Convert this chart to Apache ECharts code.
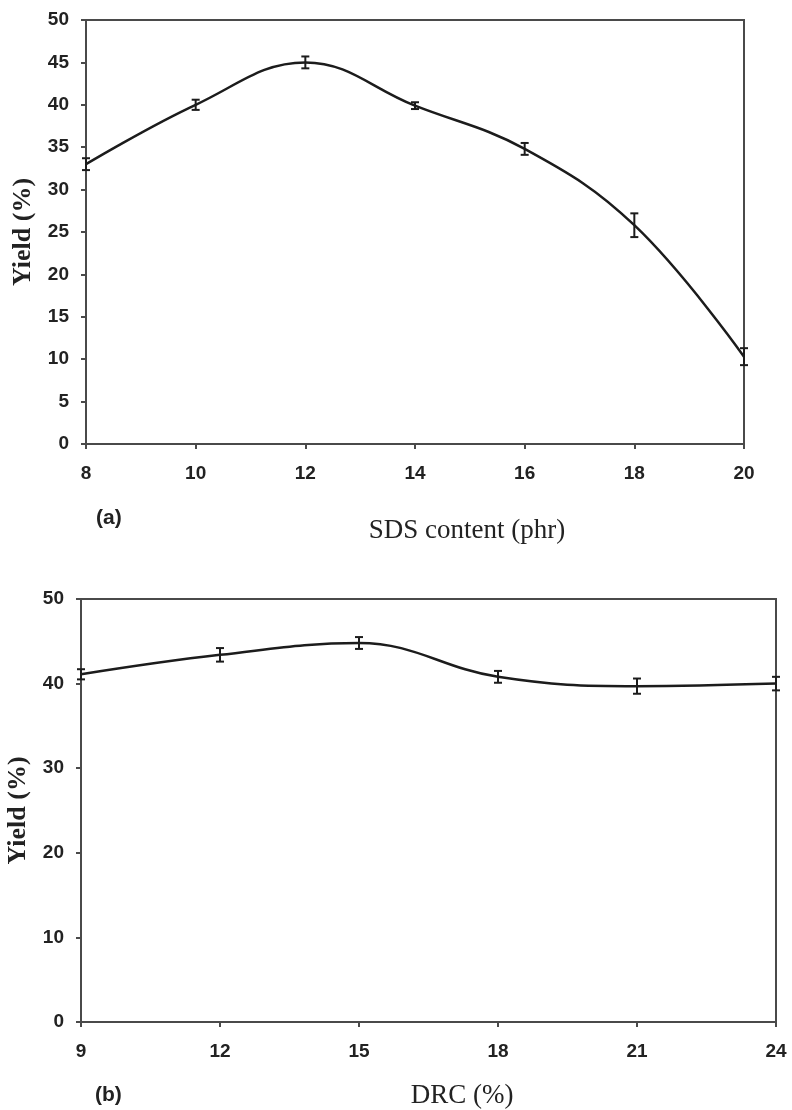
<!DOCTYPE html>
<html><head><meta charset="utf-8">
<script src="https://cdn.jsdelivr.net/npm/echarts@6/dist/echarts.min.js"></script>
<style>html,body{margin:0;padding:0;background:#fff}#c{width:792px;height:1110px}</style>
</head><body><div id="c"></div>
<script>
// Panel (a)
const sdsContent = [8, 10, 12, 14, 16, 18, 20];
const yieldA = [33.0, 40.0, 45.0, 39.9, 34.8, 25.8, 10.3];
const errA = [0.7, 0.6, 0.7, 0.4, 0.7, 1.4, 1.0];
const yTicksA = [0, 5, 10, 15, 20, 25, 30, 35, 40, 45, 50];
// Panel (b)
const drc = [9, 12, 15, 18, 21, 24];
const yieldB = [41.1, 43.4, 44.8, 40.8, 39.7, 40.0];
const errB = [0.6, 0.8, 0.7, 0.7, 0.9, 0.8];
const yTicksB = [0, 10, 20, 30, 40, 50];

const chart = echarts.init(document.getElementById('c'), null, {renderer: 'canvas'});
const INK = '#1c1c1c';
const AX = '#4a4a4a';
const tickFont = {color: '#222', fontFamily: 'Liberation Sans, Arial, sans-serif', fontWeight: 'bold', fontSize: 19};

function errRender(xs, ys, es) {
  return function (params, api) {
    const i = params.dataIndex;
    const top = api.coord([xs[i], ys[i] + es[i]]);
    const bot = api.coord([xs[i], ys[i] - es[i]]);
    const w = 4;
    const st = {stroke: INK, lineWidth: 2};
    return {type: 'group', children: [
      {type: 'line', shape: {x1: top[0], y1: top[1], x2: bot[0], y2: bot[1]}, style: st},
      {type: 'line', shape: {x1: top[0] - w, y1: top[1], x2: top[0] + w, y2: top[1]}, style: st},
      {type: 'line', shape: {x1: bot[0] - w, y1: bot[1], x2: bot[0] + w, y2: bot[1]}, style: st}
    ]};
  };
}

function xAxisCfg(gi, min, max, interval, name, shift, gap) {
  return {
    type: 'value', gridIndex: gi, min: min, max: max, interval: interval,
    name: name, nameLocation: 'middle', nameGap: gap,
    nameTextStyle: {color: '#222', fontFamily: 'Liberation Serif, Times New Roman, serif', fontSize: 27, padding: [0, 0, 0, shift]},
    axisLine: {show: true, lineStyle: {color: AX, width: 2}},
    axisTick: {show: true, inside: false, length: 5, lineStyle: {color: AX, width: 2}},
    axisLabel: Object.assign({margin: 20}, tickFont),
    splitLine: {show: false}
  };
}
function yAxisCfg(gi, ticks, interval) {
  return {
    type: 'value', gridIndex: gi, min: ticks[0], max: ticks[ticks.length - 1], interval: interval,
    name: 'Yield (%)', nameLocation: 'middle', nameGap: 50,
    nameTextStyle: {color: '#222', fontFamily: 'Liberation Serif, Times New Roman, serif', fontWeight: 'bold', fontSize: 26},
    axisLine: {show: true, lineStyle: {color: AX, width: 2}},
    axisTick: {show: true, inside: false, length: 5, lineStyle: {color: AX, width: 2}},
    axisLabel: Object.assign({margin: 17}, tickFont),
    splitLine: {show: false}
  };
}

chart.setOption({
  animation: false,
  backgroundColor: '#fff',
  grid: [
    {left: 86, top: 20, width: 658, height: 424, show: true, borderColor: AX, borderWidth: 2, backgroundColor: 'transparent', containLabel: false, outerBoundsMode: 'none'},
    {left: 81, top: 599, width: 695, height: 423, show: true, borderColor: AX, borderWidth: 2, backgroundColor: 'transparent', containLabel: false, outerBoundsMode: 'none'}
  ],
  xAxis: [
    xAxisCfg(0, sdsContent[0], sdsContent[sdsContent.length - 1], 2, 'SDS content (phr)', 104, 73),
    xAxisCfg(1, drc[0], drc[drc.length - 1], 3, 'DRC (%)', 67, 60)
  ],
  yAxis: [yAxisCfg(0, yTicksA, 5), yAxisCfg(1, yTicksB, 10)],
  graphic: [
    {type: 'text', left: 96, top: 508, style: {text: '(a)', fill: '#222', font: 'bold 21px "Liberation Sans", Arial, sans-serif'}},
    {type: 'text', left: 95, top: 1085, style: {text: '(b)', fill: '#222', font: 'bold 21px "Liberation Sans", Arial, sans-serif'}}
  ],
  series: [
    {type: 'line', xAxisIndex: 0, yAxisIndex: 0, smooth: 0.4, showSymbol: false,
     lineStyle: {color: INK, width: 2.5}, data: sdsContent.map((x, i) => [x, yieldA[i]])},
    {type: 'custom', xAxisIndex: 0, yAxisIndex: 0, renderItem: errRender(sdsContent, yieldA, errA),
     data: sdsContent.map((x, i) => [x, yieldA[i]]), z: 3},
    {type: 'line', xAxisIndex: 1, yAxisIndex: 1, smooth: 0.4, showSymbol: false,
     lineStyle: {color: INK, width: 2.5}, data: drc.map((x, i) => [x, yieldB[i]])},
    {type: 'custom', xAxisIndex: 1, yAxisIndex: 1, renderItem: errRender(drc, yieldB, errB),
     data: drc.map((x, i) => [x, yieldB[i]]), z: 3}
  ]
});
</script></body></html>
